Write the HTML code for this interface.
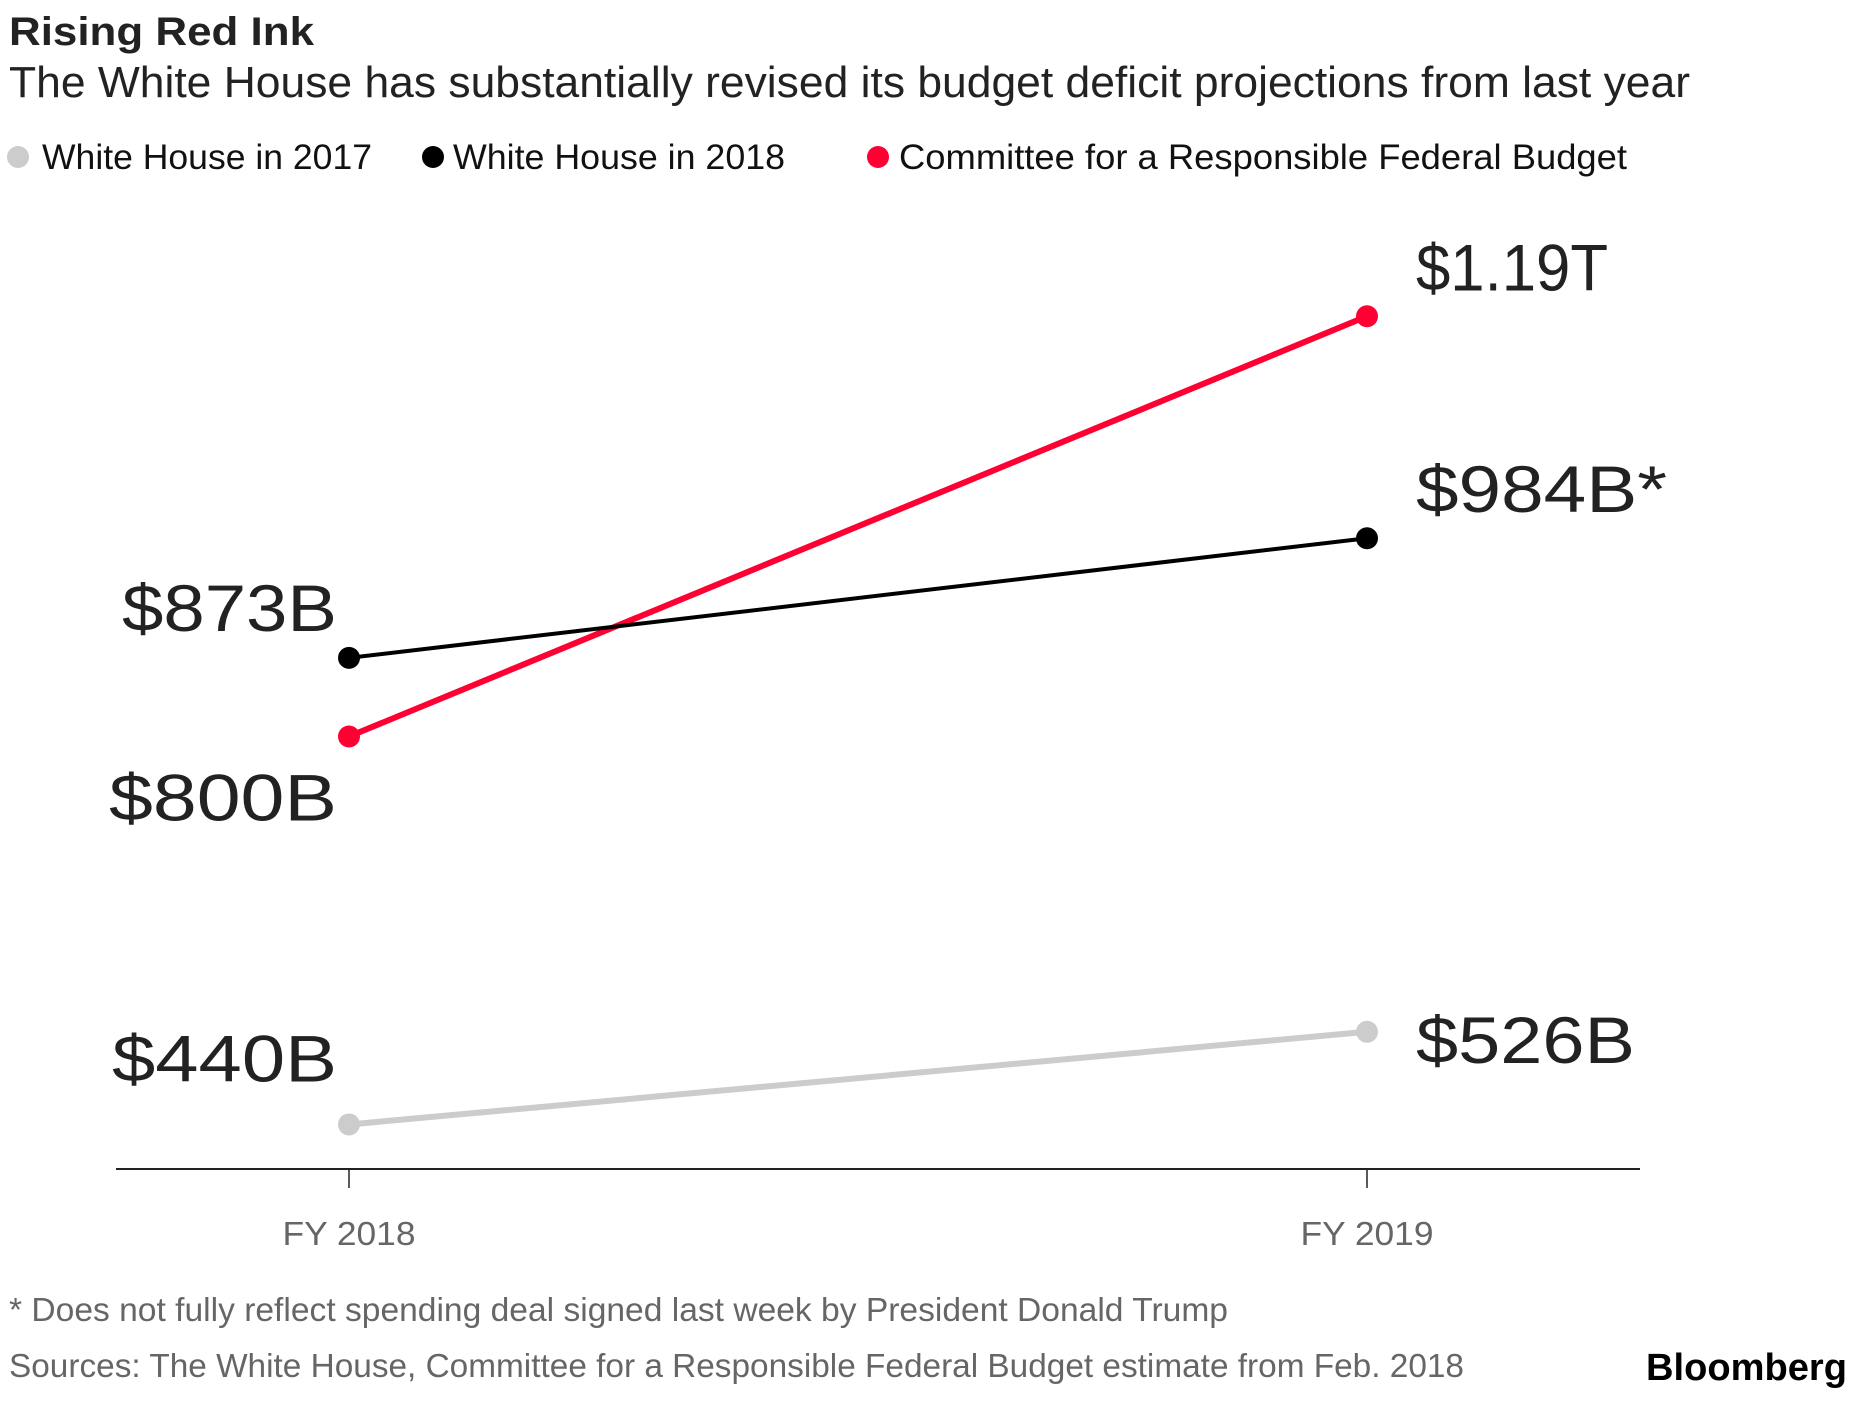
<!DOCTYPE html>
<html><head><meta charset="utf-8"><style>
html,body{margin:0;padding:0;background:#fff;}
svg{display:block;font-family:"Liberation Sans",sans-serif;}
</style></head><body>
<svg id="chart" width="1850" height="1405" viewBox="0 0 1850 1405">
<text x="9" y="45" font-size="40" font-weight="bold" fill="#222" textLength="305" lengthAdjust="spacingAndGlyphs">Rising Red Ink</text>
<text x="9" y="97" font-size="44" fill="#222" textLength="1681" lengthAdjust="spacingAndGlyphs">The White House has substantially revised its budget deficit projections from last year</text>
<g>
<circle cx="18" cy="157" r="11" fill="#cccccc"/>
<text x="42" y="169" font-size="35" fill="#111" textLength="330" lengthAdjust="spacingAndGlyphs">White House in 2017</text>
<circle cx="433" cy="157" r="11" fill="#000"/>
<text x="453" y="169" font-size="35" fill="#111" textLength="332" lengthAdjust="spacingAndGlyphs">White House in 2018</text>
<circle cx="878" cy="157" r="11" fill="#ff0033"/>
<text x="899" y="169" font-size="35" fill="#111" textLength="728" lengthAdjust="spacingAndGlyphs">Committee for a Responsible Federal Budget</text>
</g>
<g id="plot"></g>
<text x="9" y="1321" font-size="33" fill="#666" textLength="1219" lengthAdjust="spacingAndGlyphs">* Does not fully reflect spending deal signed last week by President Donald Trump</text>
<text x="9" y="1377" font-size="33" fill="#666" textLength="1455" lengthAdjust="spacingAndGlyphs">Sources: The White House, Committee for a Responsible Federal Budget estimate from Feb. 2018</text>
<text x="1646" y="1380" font-size="38" font-weight="bold" fill="#000" textLength="201" lengthAdjust="spacingAndGlyphs">Bloomberg</text>
</svg>
<script>
const categories = ["FY 2018", "FY 2019"];
const wh2017 = [440, 526];
const wh2018 = [873, 984];
const crfb = [800, 1190];
const wh2017Labels = ["$440B", "$526B"];
const wh2018Labels = ["$873B", "$984B*"];
const crfbLabels = ["$800B", "$1.19T"];

const NS = "http://www.w3.org/2000/svg";
const plot = document.getElementById("plot");
function xScale(i){ return 349 + i * (1367 - 349); }
function yScale(v){ return 1598.6 - 1.0776 * v; }
function mk(tag, attrs){ const e = document.createElementNS(NS, tag); for (const k in attrs) e.setAttribute(k, attrs[k]); plot.appendChild(e); return e; }

const axis = mk("line", {x1:116, x2:1640, y1:1169, y2:1169, stroke:"#222", "stroke-width":2});


categories.forEach((c, i) => {
  const t = mk("line", {x1:xScale(i), x2:xScale(i), y1:1169, y2:1188, stroke:"#222", "stroke-width":1.5});
  
  
  const l = mk("text", {x:xScale(i), y:1245, "font-size":33, fill:"#666", "text-anchor":"middle", textLength:133, lengthAdjust:"spacingAndGlyphs"});
  l.textContent = c;
  
  
});

const series = [
  {vals: wh2017, labels: wh2017Labels, color: "#cccccc", w: 6, name: "wh2017", lw: [225, 219], off: [-43, 31]},
  {vals: crfb, labels: crfbLabels, color: "#ff0033", w: 6, name: "crfb", lw: [228, 192], off: [84, -26]},
  {vals: wh2018, labels: wh2018Labels, color: "#000000", w: 4, name: "wh2018", lw: [215, 251], off: [-27, -26]}
];
series.forEach(s => {
  const ln = mk("line", {x1:xScale(0), y1:yScale(s.vals[0]), x2:xScale(1), y2:yScale(s.vals[1]), stroke:s.color, "stroke-width":s.w});
  
  
});
series.forEach(s => {
  s.vals.forEach((v, i) => {
    const c = mk("circle", {cx:xScale(i), cy:yScale(v), r:11, fill:s.color});
    
    
    const t = mk("text", {x: i === 0 ? xScale(i) - 12 : xScale(i) + 49, y: yScale(v) + s.off[i], "font-size":66, fill:"#222", "text-anchor": i === 0 ? "end" : "start", textLength: s.lw[i], lengthAdjust:"spacingAndGlyphs"});
    t.textContent = s.labels[i];
    
    
  });
});
</script>
</body></html>
